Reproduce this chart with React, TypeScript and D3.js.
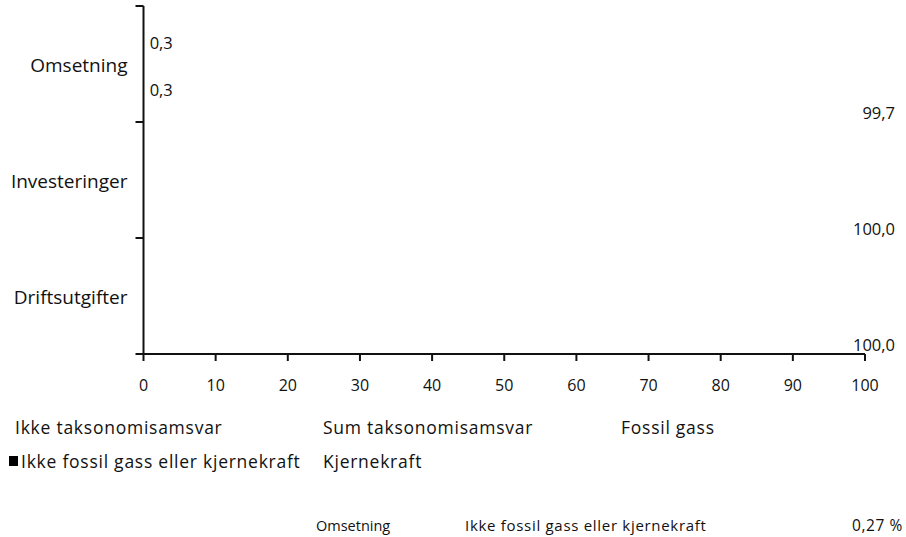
import React, { useRef, useEffect } from "react";
import * as d3 from "d3";

const width = 906;
const height = 537;
const margin = { top: 6, right: 41, bottom: 183, left: 143.5 };
const font = "'Open Sans', 'Noto Sans', sans-serif";

// categories (top to bottom) and series (legend order)
const categories = ["Omsetning", "Investeringer", "Driftsutgifter"];
const seriesNames = [
  "Ikke taksonomisamsvar",
  "Sum taksonomisamsvar",
  "Fossil gass",
  "Ikke fossil gass eller kjernekraft",
  "Kjernekraft",
];

// values per category, in percent
const ikkeTaksonomisamsvar = [99.7, 100.0, 100.0];
const sumTaksonomisamsvar = [0.3, 0, 0];
const fossilGass = [0, 0, 0];
const ikkeFossilGass = [0.3, 0, 0];
const kjernekraft = [0, 0, 0];
const seriesValues = [ikkeTaksonomisamsvar, sumTaksonomisamsvar, fossilGass, ikkeFossilGass, kjernekraft];

// bars are left unfilled in the original; only one legend key has a swatch
const barFill = ["none", "none", "none", "none", "none"];
const swatchFill = [null, null, null, "#000", null];

const xTicks = [0, 10, 20, 30, 40, 50, 60, 70, 80, 90, 100];

// footnote row
const noteCategory = "Omsetning";
const noteSeries = "Ikke fossil gass eller kjernekraft";
const noteValue = "0,27 %";

const fmt = (v: number) => v.toFixed(1).replace(".", ",");

export default function App() {
  const ref = useRef<SVGSVGElement>(null);

  useEffect(() => {
    if (!ref.current) return;
    const svg = d3.select(ref.current);
    svg.selectAll("*").remove();

    const x = d3.scaleLinear().domain([0, 100]).range([margin.left, width - margin.right]);
    const y = d3.scaleBand().domain(categories).range([margin.top, height - margin.bottom]).padding(0);
    // Excel draws the first series at the bottom of each group
    const inner = d3.scaleBand<number>()
      .domain(d3.range(seriesNames.length).reverse())
      .range([0, y.bandwidth()])
      .padding(0);

    const rows = categories.flatMap((c, ci) =>
      seriesNames.map((s, si) => ({ c, si, v: seriesValues[si][ci] }))
    );

    const bars = svg.append("g");
    bars.selectAll("rect")
      .data(rows)
      .join("rect")
      .attr("x", x(0))
      .attr("y", d => y(d.c)! + inner(d.si)! + 3)
      .attr("width", d => x(d.v) - x(0))
      .attr("height", inner.bandwidth() - 6)
      .attr("fill", d => barFill[d.si]);

    // data labels, kept inside the chart area on the right
    const labelMax = 895;
    svg.append("g")
      .selectAll("text")
      .data(rows.filter(d => d.v > 0))
      .join("text")
      .attr("x", d => x(d.v) + 4)
      .attr("y", d => y(d.c)! + inner(d.si)! + inner.bandwidth() / 2 + 2)
      .attr("dominant-baseline", "central")
      .attr("font-family", font)
      .attr("font-size", 16.5)
      .attr("fill", "#111")
      .text(d => fmt(d.v))
      .each(function () {
        const t = this as SVGTextElement;
        const len = t.getComputedTextLength();
        const x0 = +t.getAttribute("x")!;
        if (x0 + len > labelMax) t.setAttribute("x", String(labelMax - len));
      });

    // y axis: ticks between categories
    const yAxis = svg.append("g");
    yAxis.append("line")
      .attr("x1", x(0)).attr("x2", x(0))
      .attr("y1", margin.top).attr("y2", height - margin.bottom)
      .attr("stroke", "#111").attr("stroke-width", 2);
    yAxis.selectAll("line.tick")
      .data(categories.map(c => y(c)!))
      .join("line")
      .attr("class", "tick")
      .attr("x1", x(0) - 8).attr("x2", x(0))
      .attr("y1", d => d).attr("y2", d => d)
      .attr("stroke", "#111").attr("stroke-width", 2);
    yAxis.selectAll("text")
      .data(categories)
      .join("text")
      .attr("x", x(0) - 16)
      .attr("y", d => y(d)! + y.bandwidth() / 2 + 1)
      .attr("dominant-baseline", "central")
      .attr("text-anchor", "end")
      .attr("font-family", font)
      .attr("font-size", 19)
      .attr("fill", "#111")
      .text(d => d);

    // x axis
    const xAxis = svg.append("g")
      .attr("transform", `translate(0,${height - margin.bottom})`);
    xAxis.append("line")
      .attr("x1", x(0) - 8).attr("x2", x(100))
      .attr("stroke", "#111").attr("stroke-width", 2);
    xAxis.selectAll("line.tick")
      .data(xTicks)
      .join("line")
      .attr("class", "tick")
      .attr("x1", d => x(d)).attr("x2", d => x(d))
      .attr("y1", 0).attr("y2", 7)
      .attr("stroke", "#111").attr("stroke-width", 2);
    xAxis.selectAll("text")
      .data(xTicks)
      .join("text")
      .attr("x", d => x(d))
      .attr("y", 31)
      .attr("dominant-baseline", "central")
      .attr("text-anchor", "middle")
      .attr("font-family", font)
      .attr("font-size", 16)
      .attr("fill", "#111")
      .text(d => d);

    // legend, three columns
    const legendCols = [15, 323, 621];
    const legend = svg.append("g");
    const items = legend.selectAll("g")
      .data(seriesNames)
      .join("g")
      .attr("transform", (d, i) => `translate(${legendCols[i % 3]},${427 + Math.floor(i / 3) * 34})`);
    items.filter((d, i) => swatchFill[i] !== null)
      .append("rect")
      .attr("x", -6).attr("y", -5)
      .attr("width", 9).attr("height", 10)
      .attr("fill", d => swatchFill[seriesNames.indexOf(d)]!);
    items.append("text")
      .attr("x", (d, i) => (swatchFill[i] !== null ? 6 : 0))
      .attr("dominant-baseline", "central")
      .attr("font-family", font)
      .attr("font-size", 17.5)
      .attr("letter-spacing", 0.75)
      .attr("fill", "#111")
      .text(d => d);

    // footnote
    const note = svg.append("g")
      .attr("font-family", font)
      .attr("fill", "#111");
    note.append("text").attr("x", 316).attr("y", 525).attr("dominant-baseline", "central")
      .attr("font-size", 14.5).text(noteCategory);
    note.append("text").attr("x", 465).attr("y", 525).attr("dominant-baseline", "central")
      .attr("font-size", 15).attr("letter-spacing", 0.7).text(noteSeries);
    note.append("text").attr("x", 903).attr("y", 525).attr("dominant-baseline", "central")
      .attr("font-size", 15.5).attr("letter-spacing", 0.6)
      .attr("text-anchor", "end").text(noteValue);
  }, []);

  return (
    <svg
      ref={ref}
      width={width}
      height={height}
      style={{ position: "absolute", left: 0, top: 0, background: "#fff" }}
    />
  );
}
